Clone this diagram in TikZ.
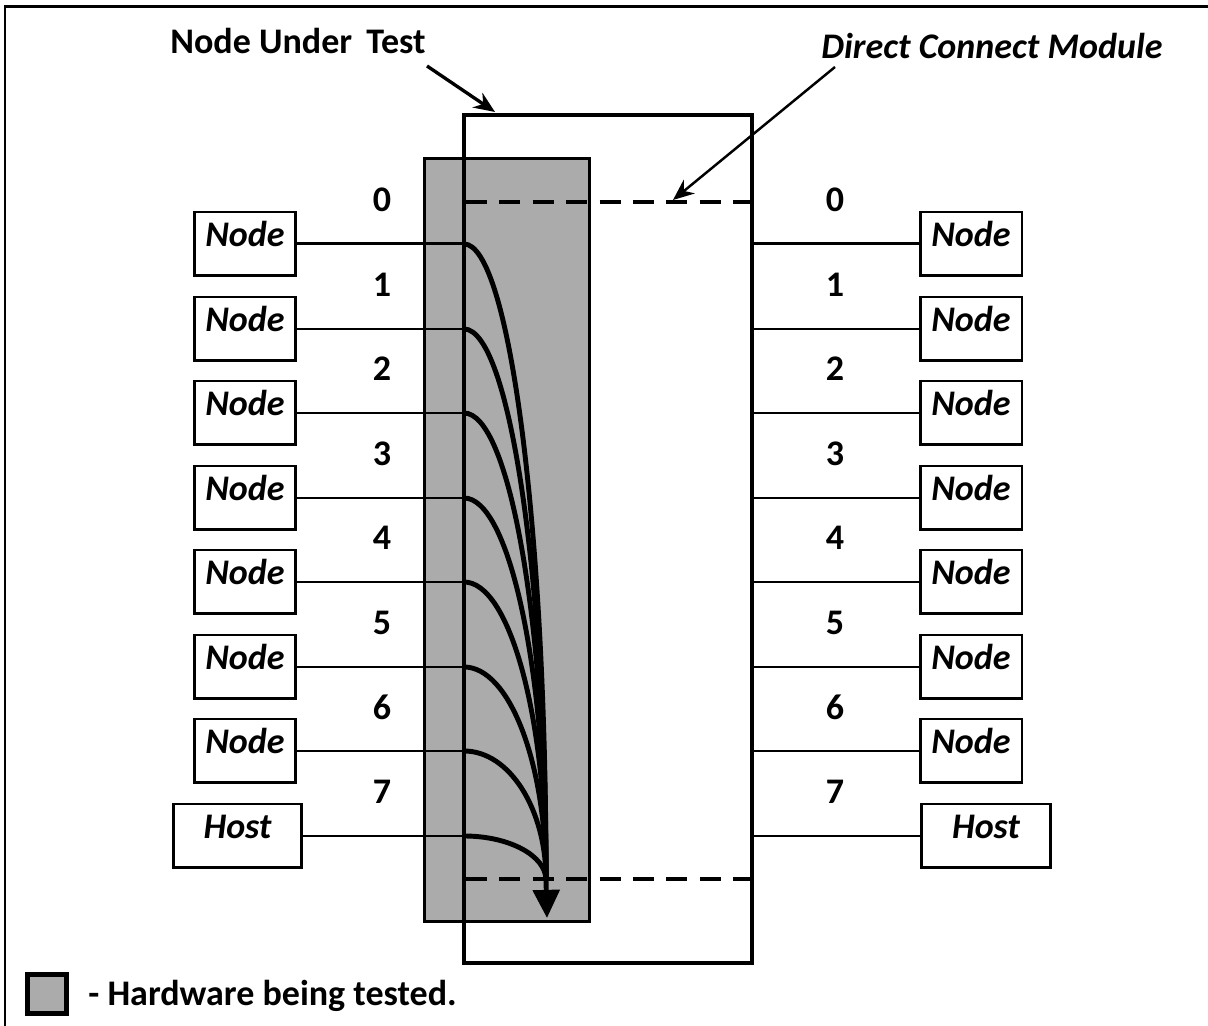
\documentclass[tikz,border=0pt]{standalone}
\usepackage{fontspec}
\setmainfont{Carlito}
\usetikzlibrary{arrows.meta}
\usetikzlibrary{calc}

\begin{document}
\begin{tikzpicture}[x={(0.02cm,0)},y={(0,-0.02cm)},
    txt/.style={font=\bfseries\fontsize{20.5}{24}\selectfont, inner sep=0},
    itxt/.style={font=\bfseries\itshape\fontsize{20.5}{24}\selectfont, inner sep=0},
    box/.style={draw, line width=1.7pt, inner sep=0, minimum width=2.04cm,
      text height=0.70cm, text depth=0.58cm, font=\bfseries\itshape\fontsize{20.5}{24}\selectfont},
    hostbox/.style={box, minimum width=2.58cm},
    wire/.style={line width=1.7pt},
    loopline/.style={line width=2.8pt},
    cut/.style={line width=2.8pt, dash pattern=on 12pt off 7pt}]
        \useasboundingbox (0,0) rectangle (1208,1026);
        % frame
        \draw [line width=1.7pt] (5,1030) -- (5,7) -- (1212,7);

        % hardware under test and the node itself
        \node [draw, line width=1.7pt, fill=black!33, minimum width=3.32cm, minimum height=15.28cm](hw) at (507,540){};
        \node [draw, line width=2.3pt, minimum width=5.76cm, minimum height=16.96cm](nut) at (608,539){};

        % direct connect module
        \draw [cut] (466,202) -- (750,202);
        \draw [cut] (466,879) -- (750,879);

        % left side
        \node [box](l0) at (245,244){Node};
        \node [box](l1) at (245,329){Node};
        \node [box](l2) at (245,413){Node};
        \node [box](l3) at (245,498){Node};
        \node [box](l4) at (245,582){Node};
        \node [box](l5) at (245,667){Node};
        \node [box](l6) at (245,751){Node};
        \node [hostbox](l7) at (237.5,836){Host};

        \coordinate (a0) at (464,244);
        \coordinate (a1) at (464,329);
        \coordinate (a2) at (464,413);
        \coordinate (a3) at (464,498);
        \coordinate (a4) at (464,582);
        \coordinate (a5) at (464,667);
        \coordinate (a6) at (464,751);
        \coordinate (a7) at (464,836);

        \draw [wire] (l0) -- (a0);
        \draw [wire] (l1) -- (a1);
        \draw [wire] (l2) -- (a2);
        \draw [wire] (l3) -- (a3);
        \draw [wire] (l4) -- (a4);
        \draw [wire] (l5) -- (a5);
        \draw [wire] (l6) -- (a6);
        \draw [wire] (l7) -- (a7);

        \node [txt](n0) at (382,200){0};
        \node [txt](n1) at (382,285){1};
        \node [txt](n2) at (382,369){2};
        \node [txt](n3) at (382,454){3};
        \node [txt](n4) at (382,538){4};
        \node [txt](n5) at (382,623){5};
        \node [txt](n6) at (382,707){6};
        \node [txt](n7) at (382,792){7};

        % right side
        \node [box](r0) at (971,244){Node};
        \node [box](r1) at (971,329){Node};
        \node [box](r2) at (971,413){Node};
        \node [box](r3) at (971,498){Node};
        \node [box](r4) at (971,582){Node};
        \node [box](r5) at (971,667){Node};
        \node [box](r6) at (971,751){Node};
        \node [hostbox](r7) at (986,836){Host};

        \coordinate (b0) at (752,244);
        \coordinate (b1) at (752,329);
        \coordinate (b2) at (752,413);
        \coordinate (b3) at (752,498);
        \coordinate (b4) at (752,582);
        \coordinate (b5) at (752,667);
        \coordinate (b6) at (752,751);
        \coordinate (b7) at (752,836);

        \draw [wire] (b0) -- (r0);
        \draw [wire] (b1) -- (r1);
        \draw [wire] (b2) -- (r2);
        \draw [wire] (b3) -- (r3);
        \draw [wire] (b4) -- (r4);
        \draw [wire] (b5) -- (r5);
        \draw [wire] (b6) -- (r6);
        \draw [wire] (b7) -- (r7);

        \node [txt](m0) at (835,200){0};
        \node [txt](m1) at (835,285){1};
        \node [txt](m2) at (835,369){2};
        \node [txt](m3) at (835,454){3};
        \node [txt](m4) at (835,538){4};
        \node [txt](m5) at (835,623){5};
        \node [txt](m6) at (835,707){6};
        \node [txt](m7) at (835,792){7};

        % loop back paths
        \draw [loopline] (a0) arc [start angle=270, end angle=360, x radius=82, y radius=636];
        \draw [loopline] (a1) arc [start angle=270, end angle=360, x radius=82, y radius=551];
        \draw [loopline] (a2) arc [start angle=270, end angle=360, x radius=82, y radius=467];
        \draw [loopline] (a3) arc [start angle=270, end angle=360, x radius=82, y radius=382];
        \draw [loopline] (a4) arc [start angle=270, end angle=360, x radius=82, y radius=298];
        \draw [loopline] (a5) arc [start angle=270, end angle=360, x radius=82, y radius=213];
        \draw [loopline] (a6) arc [start angle=270, end angle=360, x radius=82, y radius=129];
        \draw [loopline] (a7) arc [start angle=270, end angle=360, x radius=82, y radius=44];
        \coordinate (sink) at (546,880);
        \coordinate (tip) at (547,918);
        \draw [loopline, -{Triangle[length=16pt, width=15pt]}] (sink) -- (tip);

        % labels
        \node [txt](lab1) at (298,41){Node Under\, Test};
        \coordinate (nutTip) at (495,112);
        \draw [line width=1.9pt, -{Stealth[length=12pt, width=10pt]}] (427,66) -- (nutTip);

        \node [itxt](lab2) at (992,46){Direct Connect Module};
        \coordinate (dcmTip) at (673,200);
        \draw [line width=1.4pt, -{Stealth[length=12pt, width=10pt]}] (835,67) -- (dcmTip);

        % legend
        \node [draw, line width=2.3pt, fill=black!33, minimum size=0.78cm, inner sep=0](key) at (47,994){};
        \node [txt, anchor=west](keytxt) at (88,996){- Hardware being tested.};
\end{tikzpicture}
\end{document}
